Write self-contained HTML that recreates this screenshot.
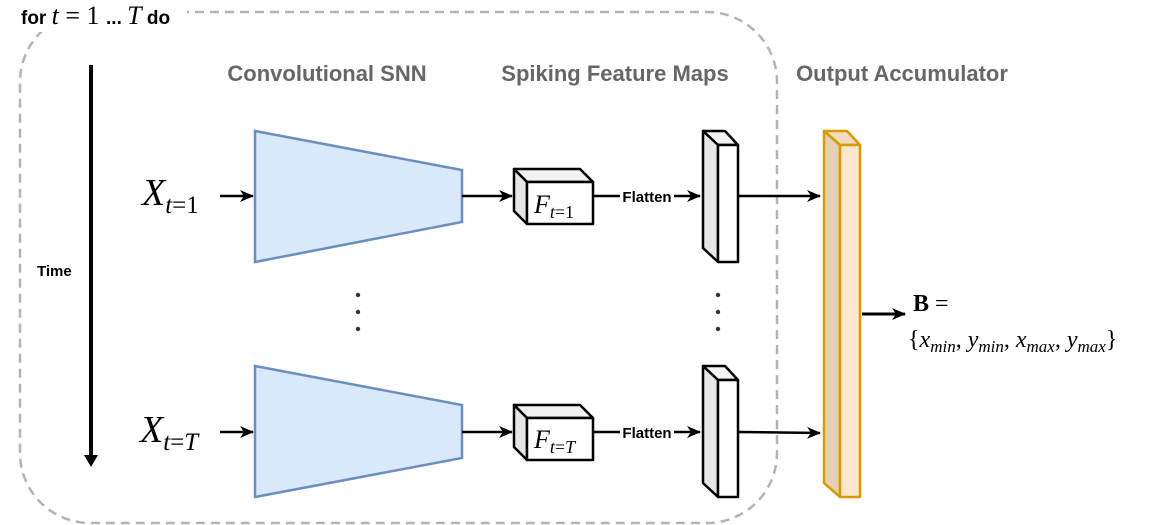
<!DOCTYPE html>
<html><head><meta charset="utf-8"><style>
html,body{margin:0;padding:0;background:#fff;}
svg{display:block;}
.lab{font-family:"Liberation Sans",sans-serif;font-weight:bold;font-size:22px;fill:#666;}
.m{font-family:"Liberation Serif",serif;font-style:italic;}
</style></head><body>
<svg width="1171" height="525" viewBox="0 0 1171 525" xmlns="http://www.w3.org/2000/svg">
<defs>
<marker id="a" markerWidth="14" markerHeight="14" refX="13" refY="7" orient="auto" markerUnits="userSpaceOnUse">
<path d="M0,1 L14,7 L0,13 L4,7 Z" fill="#000"/></marker>
</defs>
<rect x="20" y="12" width="757" height="511" rx="70" ry="70" fill="none" stroke="#b3b3b3" stroke-width="2.5" stroke-dasharray="9,6"/>
<rect x="15" y="0" width="172" height="32" fill="#fff"/>
<text x="21" y="24" font-family="Liberation Sans,sans-serif" font-weight="bold" font-size="19" fill="#000">for <tspan class="m" font-weight="normal" font-size="26">t</tspan><tspan font-weight="normal" font-family="Liberation Serif,serif" font-size="26"> = 1 </tspan>... <tspan class="m" font-weight="normal" font-size="26">T</tspan> do</text>

<text class="lab" x="327" y="81" text-anchor="middle">Convolutional SNN</text>
<text class="lab" x="615" y="81" text-anchor="middle">Spiking Feature Maps</text>
<text class="lab" x="902" y="81" text-anchor="middle">Output Accumulator</text>

<line x1="91" y1="65" x2="91" y2="455" stroke="#000" stroke-width="4"/>
<path d="M84,455 L98,455 L91,467 Z" fill="#000"/>
<text x="37" y="276" font-family="Liberation Sans,sans-serif" font-weight="bold" font-size="15">Time</text>

<text x="142" y="205" class="m" font-size="38">X<tspan font-size="25" dy="8">t</tspan><tspan font-size="25" font-style="normal">=1</tspan></text>
<line x1="220" y1="196" x2="253" y2="196" stroke="#000" stroke-width="2.5" marker-end="url(#a)"/>
<polygon points="255,131 462,170 462,222 255,262" fill="#dae8fc" stroke="#6c8ebf" stroke-width="2.5"/>
<line x1="462" y1="196" x2="512" y2="196" stroke="#000" stroke-width="2.5" marker-end="url(#a)"/>
<g stroke="#000" stroke-width="2.5" stroke-linejoin="round">
<polygon points="514,169 580,169 593,182 527,182" fill="#f2f2f2"/>
<polygon points="514,169 527,182 527,224 514,211" fill="#e6e6e6"/>
<rect x="527" y="182" width="66" height="42" fill="#fff"/>
</g>
<text x="534" y="213" class="m" font-size="26">F<tspan font-size="18" dy="5">t</tspan><tspan font-size="18" font-style="normal">=1</tspan></text>
<line x1="593" y1="196" x2="700" y2="196" stroke="#000" stroke-width="2.5" marker-end="url(#a)"/>
<rect x="620" y="187" width="54" height="18" fill="#fff"/>
<text x="647" y="202" text-anchor="middle" font-family="Liberation Sans,sans-serif" font-weight="bold" font-size="15">Flatten</text>
<g stroke="#000" stroke-width="2.5" stroke-linejoin="round">
<polygon points="703,131 725,131 738,145 718,145" fill="#f2f2f2"/>
<polygon points="703,131 718,145 718,262 703,248" fill="#e6e6e6"/>
<rect x="718" y="145" width="20" height="117" fill="#fff"/>
</g>
<line x1="738" y1="196" x2="820" y2="196" stroke="#000" stroke-width="2.5" marker-end="url(#a)"/>

<g fill="#333"><circle cx="358" cy="295" r="2.2"/><circle cx="358" cy="312" r="2.2"/><circle cx="358" cy="329" r="2.2"/>
<circle cx="718" cy="295" r="2.2"/><circle cx="718" cy="312" r="2.2"/><circle cx="718" cy="329" r="2.2"/></g>

<text x="140" y="442" class="m" font-size="38">X<tspan font-size="25" dy="8">t</tspan><tspan font-size="25" font-style="normal">=</tspan><tspan font-size="25">T</tspan></text>
<line x1="220" y1="432" x2="253" y2="432" stroke="#000" stroke-width="2.5" marker-end="url(#a)"/>
<polygon points="255,366 462,405 462,458 255,497" fill="#dae8fc" stroke="#6c8ebf" stroke-width="2.5"/>
<line x1="462" y1="432" x2="512" y2="432" stroke="#000" stroke-width="2.5" marker-end="url(#a)"/>
<g stroke="#000" stroke-width="2.5" stroke-linejoin="round">
<polygon points="514,405 580,405 593,418 527,418" fill="#f2f2f2"/>
<polygon points="514,405 527,418 527,460 514,447" fill="#e6e6e6"/>
<rect x="527" y="418" width="66" height="42" fill="#fff"/>
</g>
<text x="534" y="448" class="m" font-size="26">F<tspan font-size="18" dy="5">t</tspan><tspan font-size="18" font-style="normal">=</tspan><tspan font-size="18">T</tspan></text>
<line x1="593" y1="432" x2="700" y2="432" stroke="#000" stroke-width="2.5" marker-end="url(#a)"/>
<rect x="620" y="423" width="54" height="18" fill="#fff"/>
<text x="647" y="438" text-anchor="middle" font-family="Liberation Sans,sans-serif" font-weight="bold" font-size="15">Flatten</text>
<g stroke="#000" stroke-width="2.5" stroke-linejoin="round">
<polygon points="703,366 725,366 738,380 718,380" fill="#f2f2f2"/>
<polygon points="703,366 718,380 718,497 703,483" fill="#e6e6e6"/>
<rect x="718" y="380" width="20" height="117" fill="#fff"/>
</g>
<line x1="738" y1="432" x2="820" y2="433" stroke="#000" stroke-width="2.5" marker-end="url(#a)"/>

<g stroke="#d79b00" stroke-width="2.5" stroke-linejoin="round">
<polygon points="824,131 847,131 860,145 840,145" fill="#f2dcc0"/>
<polygon points="824,131 840,145 840,497 824,483" fill="#e6d0b5"/>
<rect x="840" y="145" width="20" height="352" fill="#ffe6cc"/>
</g>
<line x1="862" y1="314" x2="905" y2="314" stroke="#000" stroke-width="3" marker-end="url(#a)"/>
<text x="913" y="311" font-family="Liberation Serif,serif" font-size="24"><tspan font-weight="bold">B</tspan> =</text>
<text x="908" y="347" font-family="Liberation Serif,serif" font-size="24">{<tspan font-style="italic">x</tspan><tspan font-style="italic" font-size="17" dy="5">min</tspan><tspan dy="-5">, </tspan><tspan font-style="italic">y</tspan><tspan font-style="italic" font-size="17" dy="5">min</tspan><tspan dy="-5">, </tspan><tspan font-style="italic">x</tspan><tspan font-style="italic" font-size="17" dy="5">max</tspan><tspan dy="-5">, </tspan><tspan font-style="italic">y</tspan><tspan font-style="italic" font-size="17" dy="5">max</tspan><tspan dy="-5">}</tspan></text>
</svg>
</body></html>
